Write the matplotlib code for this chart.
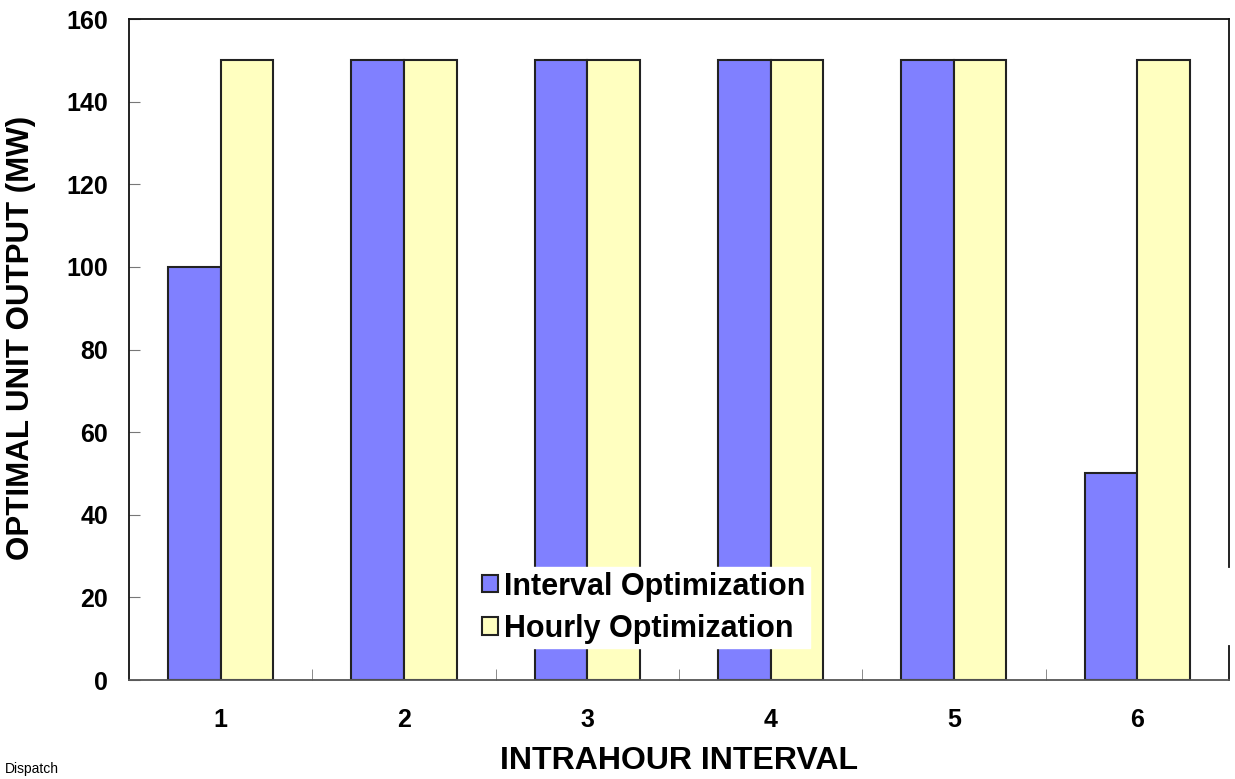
import numpy as np
import matplotlib
matplotlib.use("Agg")
import matplotlib.pyplot as plt

intervals = [1, 2, 3, 4, 5, 6]
interval_opt = [100, 150, 150, 150, 150, 50]
hourly_opt = [150, 150, 150, 150, 150, 150]

plt.rcParams['font.family'] = ['Liberation Sans', 'DejaVu Sans']

fig = plt.figure(figsize=(12.35, 7.79), dpi=100)
ax = fig.add_axes([0.1045, 0.127, 0.8905, 0.8486])

x = np.array(intervals)
w = 0.287
ax.bar(x - w / 2, interval_opt, w, color='#8080FF', edgecolor='#222222', linewidth=1.5,
       label='Interval Optimization', zorder=2)
ax.bar(x + w / 2, hourly_opt, w, color='#FFFFC0', edgecolor='#222222', linewidth=1.5,
       label='Hourly Optimization', zorder=2)

ax.set_xlim(0.5, 6.5)
ax.set_ylim(0, 160)
ax.set_yticks(range(0, 161, 20))
ax.set_xticks(intervals)
ax.set_xticks(x[:-1] + 0.5, minor=True)
ax.tick_params(axis='x', which='major', length=0, pad=20, labelsize=18)
ax.tick_params(axis='x', which='minor', direction='in', length=8, color='#777777')
ax.tick_params(axis='y', direction='in', length=8, color='#777777', pad=15, labelsize=18)
for lab in ax.get_xticklabels() + ax.get_yticklabels():
    lab.set_fontweight('bold')
for s in ax.spines.values():
    s.set_linewidth(1.3)
    s.set_color('#111111')
ax.spines['bottom'].set_color('#555555')
# right border is broken where the legend box sits
ax.spines['right'].set_visible(False)
ax.plot([1, 1], [0, 0.051], transform=ax.transAxes, color='#111111', lw=1.3, clip_on=False)
ax.plot([1, 1], [0.171, 1], transform=ax.transAxes, color='#111111', lw=1.3, clip_on=False)

ax.set_ylabel('OPTIMAL UNIT OUTPUT (MW)', fontsize=22.5, fontweight='bold', va='center')
ax.yaxis.set_label_coords(-0.098, 0.518)
ax.set_xlabel('INTRAHOUR INTERVAL', fontsize=23, fontweight='bold', va='top')
ax.xaxis.set_label_coords(0.5, -0.099)

leg = ax.legend(loc='upper left', bbox_to_anchor=(0.317, 0.171), frameon=True,
                fancybox=False, edgecolor='white', framealpha=1,
                prop={'weight': 'bold', 'size': 22}, handlelength=0.5, handleheight=0.5,
                handletextpad=0.2, labelspacing=0.4, borderpad=0.15, borderaxespad=0)
leg.set_zorder(5)

fig.text(0.004, 0.008, 'Dispatch', fontsize=10)

fig.savefig('out.png', dpi=100)
